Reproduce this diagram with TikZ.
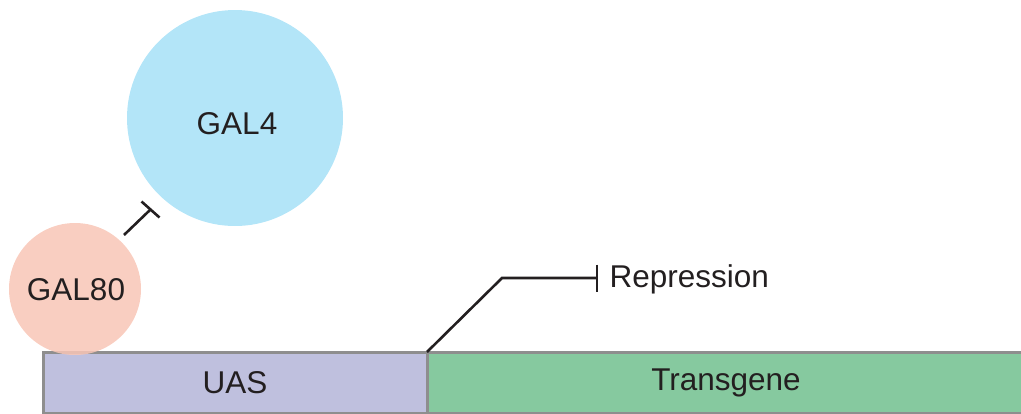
\documentclass[tikz,border=0pt]{standalone}
\usepackage{fontspec}
\setmainfont{Liberation Sans}
\definecolor{galblue}{HTML}{B3E5F8}
\definecolor{galpink}{HTML}{F8C6B6}
\definecolor{uasfill}{HTML}{BFC0DE}
\definecolor{tgfill}{HTML}{86C99F}
\definecolor{edgegray}{HTML}{8E8E8E}
\definecolor{inkgray}{HTML}{231F20}
\tikzset{
  lbl/.style={font=\fontsize{31.5}{36}\selectfont, text=inkgray},
  seg/.style={draw=edgegray, line width=3pt},
  inhib/.style={draw=inkgray, line width=2.6pt},
}
\begin{document}
\begin{tikzpicture}[x=1pt, y=-1pt]
\useasboundingbox (0,0) rectangle (1021,413);
% DNA construct
\path[seg, fill=uasfill] (43,352) rectangle (427,413.8) node[midway, lbl] (uas) {UAS};
\path[seg, fill=tgfill] (427,352) rectangle (1025,413.8) node[midway, lbl] (tg) {Transgene};
\coordinate (junc) at (427,352);
% proteins
\node[circle, fill=galblue, minimum size=216pt, inner sep=0pt] (gal4) at (235,118) {};
\node[lbl] at (237,124) {GAL4};
\node[circle, fill=galpink, fill opacity=0.85, minimum size=132pt, inner sep=0pt] (gal80) at (75,289) {};
\node[lbl] (gal80t) at (76,290) {GAL80};
% GAL80 inhibits GAL4
\coordinate (i0) at (124,235);
\coordinate (i1) at (150.5,209.5);
\coordinate (b0) at (141.5,201.5);
\coordinate (b1) at (159.5,217.5);
\draw[inhib] (i0) -- (i1);
\draw[inhib] (b0) -- (b1);
% repression of the transgene
\coordinate (bend) at (502,278);
\coordinate (rend) at (597,278);
\coordinate (r0) at (597,264.5);
\coordinate (r1) at (597,291.5);
\draw[inhib, line join=miter] (junc) -- (bend) -- (rend);
\draw[inhib] (r0) -- (r1);
\node[lbl, anchor=west] (rep) at (606,279) {Repression};
\end{tikzpicture}
\end{document}
